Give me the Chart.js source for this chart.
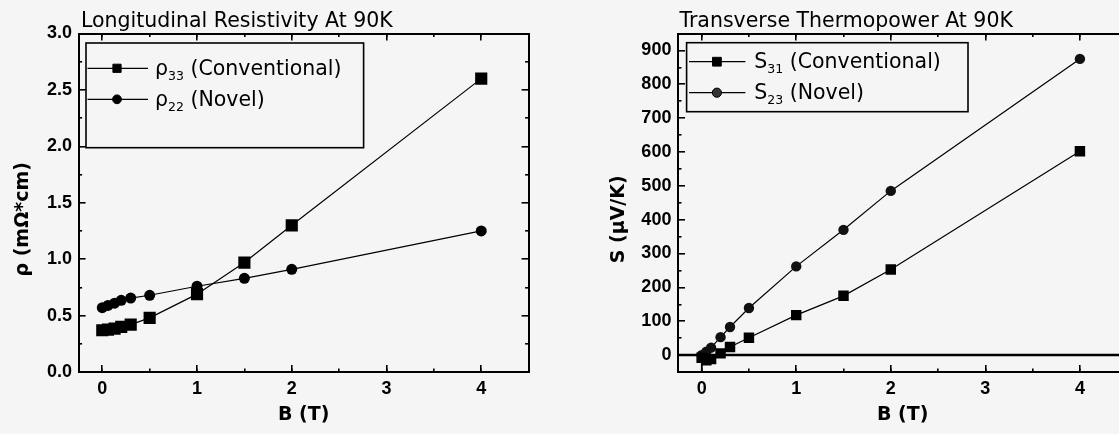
<!DOCTYPE html>
<html>
<head>
<meta charset="utf-8">
<script src="https://cdn.jsdelivr.net/npm/chart.js@4.4.1/dist/chart.umd.min.js"></script>
<style>
html,body{margin:0;padding:0;background:#f5f5f5;overflow:hidden;width:1119px;height:434px;}
#c1{position:absolute;left:0;top:0;}
#c2{position:absolute;left:560px;top:0;}
</style>
</head>
<body>
<canvas id="c1" width="560" height="434"></canvas>
<canvas id="c2" width="600" height="434"></canvas>
<script>
// ---------- data: left panel (longitudinal resistivity) ----------
const B_rho  = [0, 0.06, 0.13, 0.2, 0.3, 0.5, 1, 1.5, 2, 4];
const rho33  = [0.37, 0.375, 0.385, 0.40, 0.42, 0.48, 0.69, 0.97, 1.30, 2.60];
const rho22  = [0.57, 0.59, 0.61, 0.635, 0.655, 0.68, 0.76, 0.83, 0.91, 1.25];

// ---------- data: right panel (transverse thermopower) ----------
const B_S    = [0, 0.05, 0.1, 0.2, 0.3, 0.5, 1, 1.5, 2, 4];
const S31    = [-8, -15, -12, 5, 24, 51, 118, 175, 253, 602];
const S23    = [0, 10, 22, 53, 83, 139, 262, 370, 485, 875];
const zeroLineB = [-0.25, 4.5];
const zeroLineS = [0, 0];
const stemB = [0, 0];
const stemS = [0, -50];

// ---------- ticks ----------
const bTickValues   = [0, 1, 2, 3, 4];
const bTickLabels   = ['0', '1', '2', '3', '4'];
const bMinorValues  = [0, 0.5, 1, 1.5, 2, 2.5, 3, 3.5, 4];
const rhoTickValues = [0, 0.5, 1, 1.5, 2, 2.5, 3];
const rhoTickLabels = ['0.0', '0.5', '1.0', '1.5', '2.0', '2.5', '3.0'];
const rhoMinorValues = [0.25, 0.75, 1.25, 1.75, 2.25, 2.75];
const sTickValues   = [0, 100, 200, 300, 400, 500, 600, 700, 800, 900];
const sTickLabels   = ['0', '100', '200', '300', '400', '500', '600', '700', '800', '900'];
const sMinorValues  = [-50, 50, 150, 250, 350, 450, 550, 650, 750, 850];

const toXY = (xs, ys) => xs.map((x, i) => ({x: x, y: ys[i]}));

const TICK_FONT = {family: '"Liberation Sans", Arial, sans-serif', size: 18, weight: 'bold'};
const TEXT_FAMILY = '"DejaVu Sans", sans-serif';
const AXIS_TITLE_FONT = {family: TEXT_FAMILY, size: 19, weight: 'bold'};

function makeScales(o) {
  const setTicks = vals => s => { s.ticks = vals.map(v => ({value: v})); };
  const grid = len => ({display: true, drawOnChartArea: false, drawTicks: true, tickLength: -len,
                        color: '#000', tickColor: '#000', tickWidth: 1.6, lineWidth: 1.6});
  const minor = (axis, pos, min, max, vals, weight) => ({
    type: 'linear', axis: axis, position: pos, min: min, max: max, weight: weight,
    border: {display: false}, grid: grid(3.5), ticks: {display: false},
    afterBuildTicks: setTicks(vals),
    afterFit: s => { if (axis === 'x') s.height = 0; else s.width = 0; }
  });
  const frame = (axis, pos, min, max, vals, weight) => ({
    type: 'linear', axis: axis, position: pos, min: min, max: max, weight: weight,
    border: {display: true, color: '#000', width: 2}, grid: grid(7), ticks: {display: false},
    afterBuildTicks: setTicks(vals),
    afterFit: s => { if (axis === 'x') s.height = 0; else s.width = 0; }
  });
  return {
    x: {
      type: 'linear', position: 'bottom', min: o.xMin, max: o.xMax, weight: 10,
      border: {display: true, color: '#000', width: 2}, grid: grid(7),
      ticks: {font: TICK_FONT, color: '#000', padding: 13, autoSkip: false, maxRotation: 0,
              callback: (v, i) => o.xLabels[i]},
      afterBuildTicks: setTicks(o.xTicks),
      afterFit: s => { s.height = 434 - o.bottom; },
      title: {display: true, text: 'B (T)', font: AXIS_TITLE_FONT, color: '#000', padding: {top: 0, bottom: 7.6}}
    },
    xMinor: minor('x', 'bottom', o.xMin, o.xMax, o.xMinor, 0),
    xTop: frame('x', 'top', o.xMin, o.xMax, o.xTicks, 10),
    xTopMinor: minor('x', 'top', o.xMin, o.xMax, o.xMinor, 0),
    y: {
      type: 'linear', position: 'left', min: o.yMin, max: o.yMax, weight: 10,
      border: {display: true, color: '#000', width: 2}, grid: grid(7),
      ticks: {font: TICK_FONT, color: '#000', padding: 13.6, autoSkip: false,
              callback: (v, i) => o.yLabels[i]},
      afterBuildTicks: setTicks(o.yTicks),
      afterFit: s => { s.width = o.left; },
      title: {display: true, text: o.yTitle, font: AXIS_TITLE_FONT, color: '#000',
              padding: {top: o.yTitleX - 11.4, bottom: 0}}
    },
    yMinor: minor('y', 'left', o.yMin, o.yMax, o.yMinor, 0),
    yRight: frame('y', 'right', o.yMin, o.yMax, o.yTicks, 10),
    yRightMinor: minor('y', 'right', o.yMin, o.yMax, o.yMinor, 0)
  };
}

function textPlugin(cfg) {
  return {
    id: 'panelText',
    afterDraw(chart) {
      const ctx = chart.ctx;
      ctx.save();
      ctx.fillStyle = '#000';
      ctx.strokeStyle = '#000';
      ctx.textBaseline = 'alphabetic';
      ctx.textAlign = 'left';
      ctx.font = '20.5px ' + TEXT_FAMILY;
      ctx.fillText(cfg.title, cfg.titleX, cfg.titleY);
      // legend box
      ctx.lineWidth = 1.6;
      ctx.strokeRect(cfg.box[0], cfg.box[1], cfg.box[2], cfg.box[3]);
      cfg.entries.forEach(e => {
        ctx.lineWidth = 1.3;
        ctx.strokeStyle = '#000';
        ctx.beginPath();
        ctx.moveTo(cfg.lineX0, e.y);
        ctx.lineTo(cfg.lineX1, e.y);
        ctx.stroke();
        ctx.fillStyle = e.color;
        ctx.lineWidth = 1;
        Chart.helpers.drawPoint(ctx, {pointStyle: e.style, radius: e.r, rotation: 0, borderWidth: 1},
                                cfg.markerX, e.y);
        ctx.fillStyle = '#000';
        let x = cfg.textX;
        const base = e.y + 6.7;
        ctx.font = '20.5px ' + TEXT_FAMILY;
        ctx.fillText(e.main, x, base);
        x += ctx.measureText(e.main).width;
        ctx.font = '12.5px ' + TEXT_FAMILY;
        ctx.fillText(e.sub, x, base + 5);
        x += ctx.measureText(e.sub).width;
        ctx.font = '20.5px ' + TEXT_FAMILY;
        ctx.fillText(e.rest, x, base);
      });
      ctx.restore();
    }
  };
}

// ---------- left chart ----------
new Chart(document.getElementById('c1'), {
  type: 'line',
  data: {
    datasets: [
      {label: 'ρ33 (Conventional)', data: toXY(B_rho, rho33), borderColor: '#000', backgroundColor: '#000',
       borderWidth: 1.2, pointStyle: 'rect', pointRadius: 8.6, pointBorderWidth: 0, tension: 0},
      {label: 'ρ22 (Novel)', data: toXY(B_rho, rho22), borderColor: '#000', backgroundColor: '#000',
       borderWidth: 1.2, pointStyle: 'circle', pointRadius: 5.5, pointBorderWidth: 0, tension: 0}
    ]
  },
  options: {
    responsive: false, animation: false,
    layout: {padding: {left: 0, top: 33.5, right: 560 - 528.6, bottom: 0}},
    plugins: {legend: {display: false}, tooltip: {enabled: false}},
    scales: makeScales({
      xMin: -0.25, xMax: 4.5, yMin: 0, yMax: 3,
      xTicks: bTickValues, xLabels: bTickLabels, xMinor: bMinorValues,
      yTicks: rhoTickValues, yLabels: rhoTickLabels, yMinor: rhoMinorValues,
      left: 78.6, bottom: 372, yTitle: 'ρ (mΩ*cm)     ', yTitleX: 23.2
    })
  },
  plugins: [textPlugin({
    title: 'Longitudinal Resistivity At 90K', titleX: 81, titleY: 27,
    box: [86, 43, 277.6, 104.7],
    lineX0: 87.5, lineX1: 148, markerX: 117, textX: 155,
    entries: [
      {y: 68.3, style: 'rect', r: 5.8, color: '#000', main: 'ρ', sub: '33', rest: ' (Conventional)'},
      {y: 99.3, style: 'circle', r: 4.4, color: '#000', main: 'ρ', sub: '22', rest: ' (Novel)'}
    ]
  })]
});

// ---------- right chart ----------
new Chart(document.getElementById('c2'), {
  type: 'line',
  data: {
    datasets: [
      {label: 'zero', data: toXY(zeroLineB, zeroLineS), borderColor: '#000', borderWidth: 2.5,
       pointRadius: 0, tension: 0},
      {label: 'stem', data: toXY(stemB, stemS), borderColor: '#000', borderWidth: 1.5,
       pointRadius: 0, tension: 0},
      {label: 'S31 (Conventional)', data: toXY(B_S, S31), borderColor: '#000', backgroundColor: '#000',
       borderWidth: 1.2, pointStyle: 'rect', pointRadius: 7.4, pointBorderWidth: 0, tension: 0},
      {label: 'S23 (Novel)', data: toXY(B_S, S23), borderColor: '#000', backgroundColor: '#111',
       borderWidth: 1.2, pointStyle: 'circle', pointRadius: 5.2, pointBorderWidth: 0, tension: 0}
    ]
  },
  options: {
    responsive: false, animation: false,
    layout: {padding: {left: 0, top: 33.5, right: 600 - (1127.2 - 560), bottom: 0}},
    plugins: {legend: {display: false}, tooltip: {enabled: false}},
    scales: makeScales({
      xMin: -0.25, xMax: 4.5, yMin: -50, yMax: 950,
      xTicks: bTickValues, xLabels: bTickLabels, xMinor: bMinorValues,
      yTicks: sTickValues, yLabels: sTickLabels, yMinor: sMinorValues,
      left: 118, bottom: 372, yTitle: 'S (μV/K)     ', yTitleX: 58.8
    })
  },
  plugins: [textPlugin({
    title: 'Transverse Thermopower At 90K', titleX: 119.4, titleY: 27,
    box: [126.6, 42.7, 281.4, 69],
    lineX0: 129, lineX1: 185.4, markerX: 156.9, textX: 194.3,
    entries: [
      {y: 61.7, style: 'rect', r: 6.2, color: '#000', main: 'S', sub: '31', rest: ' (Conventional)'},
      {y: 92.7, style: 'circle', r: 4.6, color: '#333', main: 'S', sub: '23', rest: ' (Novel)'}
    ]
  })]
});
</script>
</body>
</html>
